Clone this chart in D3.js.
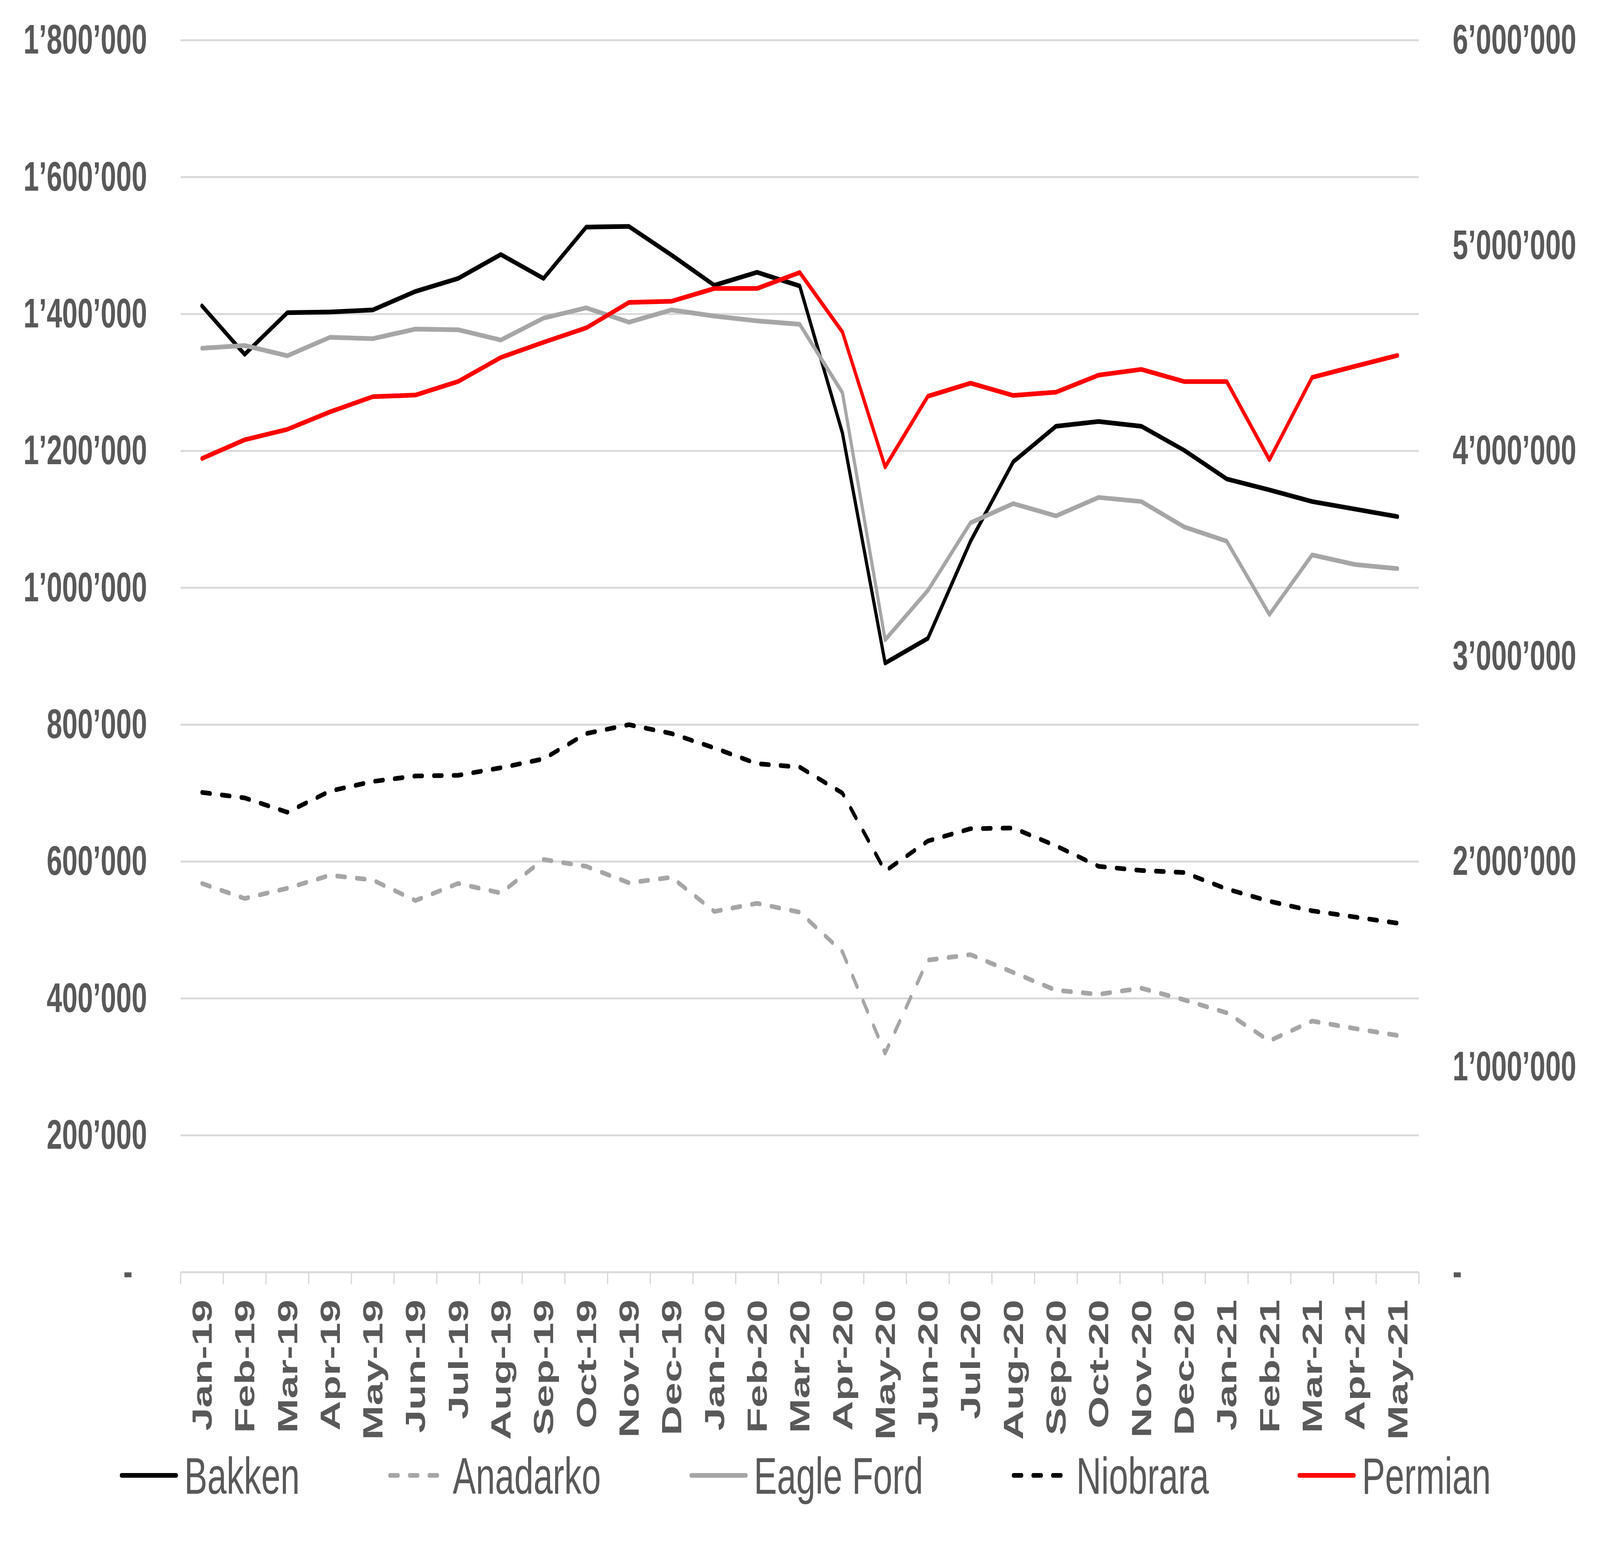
<!DOCTYPE html>
<html><head><meta charset="utf-8">
<script src="https://cdn.jsdelivr.net/npm/d3@7"></script>
<style>
html,body{margin:0;padding:0;background:#fff;overflow:hidden;width:100%;height:100%}
svg{display:block;width:100vw;height:100vh}
</style>
</head><body>
<script>
// ---------- DATA ----------
const months = ["Jan-19","Feb-19","Mar-19","Apr-19","May-19","Jun-19","Jul-19","Aug-19","Sep-19","Oct-19","Nov-19","Dec-19",
  "Jan-20","Feb-20","Mar-20","Apr-20","May-20","Jun-20","Jul-20","Aug-20","Sep-20","Oct-20","Nov-20","Dec-20",
  "Jan-21","Feb-21","Mar-21","Apr-21","May-21"];
const seriesNames = ["Bakken","Anadarko","Eagle Ford","Niobrara","Permian"];
// left axis series
const bakken    = [1412000,1341000,1402000,1403000,1406000,1433000,1452000,1487000,1452000,1527000,1528000,1486000,1442000,1461000,1441000,1226000,890000,926000,1068000,1184000,1236000,1243000,1236000,1201000,1159000,1143000,1126000,1115000,1104000];
const anadarko  = [568000,546000,561000,580000,573000,543000,568000,554000,603000,593000,569000,577000,527000,539000,526000,468000,320000,456000,464000,438000,412000,406000,415000,398000,379000,338000,367000,356000,346000];
const eagleFord = [1350000,1354000,1339000,1366000,1364000,1378000,1377000,1362000,1394000,1409000,1388000,1406000,1397000,1390000,1385000,1285000,924000,996000,1095000,1123000,1105000,1132000,1126000,1089000,1068000,961000,1048000,1034000,1028000];
const niobrara  = [701000,693000,672000,703000,717000,725000,726000,737000,750000,787000,800000,787000,766000,743000,738000,700000,586000,630000,648000,649000,623000,593000,587000,584000,560000,542000,528000,519000,510000];
// right (secondary) axis series
const permian   = [3963000,4054000,4105000,4190000,4264000,4272000,4338000,4455000,4529000,4599000,4723000,4729000,4791000,4791000,4869000,4579000,3922000,4266000,4330000,4270000,4286000,4369000,4397000,4338000,4338000,3957000,4358000,4412000,4465000];
const leftTicks  = [0,200000,400000,600000,800000,1000000,1200000,1400000,1600000,1800000];
const rightTicks = [0,1000000,2000000,3000000,4000000,5000000,6000000];

// ---------- LAYOUT ----------
const W = 6104, H = 3990;
const M = {left: 689, right: 5413, top: 103, bottom: 3256};
const FONT = "'Liberation Sans', Arial, Helvetica, sans-serif";
const TXT = "#595959", GRID = "#d9d9d9";

const svg = d3.select("body").append("svg")
  .attr("viewBox", `0 0 ${W} ${H}`)
  .attr("preserveAspectRatio", "none")
  .style("font-family", FONT);
svg.append("rect").attr("width", W).attr("height", H).attr("fill", "#fff");

const x  = d3.scaleBand().domain(months).range([M.left, M.right]);
const yL = d3.scaleLinear().domain([0, 1800000]).range([M.bottom, M.top]);
const yR = d3.scaleLinear().domain([0, 6000000]).range([M.bottom, M.top]);

const loc = d3.formatLocale({decimal: ".", thousands: "\u2019", grouping: [3], currency: ["", ""]});
const f = loc.format(",d");
const fmt = v => v === 0 ? "-" : f(v);

// gridlines
svg.append("g").selectAll("line").data(leftTicks.filter(d => d > 0)).join("line")
  .attr("x1", M.left).attr("x2", M.right)
  .attr("y1", d => yL(d)).attr("y2", d => yL(d))
  .attr("stroke", GRID).attr("stroke-width", 5);

// left axis
const gL = svg.append("g").attr("transform", `translate(${M.left},0)`)
  .call(d3.axisLeft(yL).tickValues(leftTicks).tickFormat(fmt).tickSize(0).tickPadding(128));
gL.select(".domain").remove();
gL.attr("font-family", FONT).attr("font-size", 106).attr("font-weight", "bold");
gL.selectAll("text").attr("fill", TXT).attr("dx", d => d === 0 ? -55 : 0);

// right axis
const gR = svg.append("g").attr("transform", `translate(${M.right},0)`)
  .call(d3.axisRight(yR).tickValues(rightTicks).tickFormat(fmt).tickSize(0).tickPadding(129));
gR.select(".domain").remove();
gR.attr("font-family", FONT).attr("font-size", 106).attr("font-weight", "bold");
gR.selectAll("text").attr("fill", TXT);

// bottom axis line + boundary ticks
svg.append("line").attr("x1", M.left).attr("x2", M.right).attr("y1", M.bottom).attr("y2", M.bottom)
  .attr("stroke", GRID).attr("stroke-width", 5);
const bounds = months.map(m => x(m)).concat([x(months[months.length - 1]) + x.bandwidth()]);
svg.append("g").selectAll("line").data(bounds).join("line")
  .attr("x1", d => d).attr("x2", d => d).attr("y1", M.bottom).attr("y2", M.bottom + 31)
  .attr("stroke", GRID).attr("stroke-width", 5);

const gB = svg.append("g").attr("transform", `translate(0,${M.bottom})`)
  .call(d3.axisBottom(x).tickSize(0).tickPadding(0));
gB.select(".domain").remove();
gB.attr("font-family", FONT).attr("font-size", 106).attr("font-weight", "bold");
gB.selectAll("text").attr("fill", TXT)
  .attr("transform", "rotate(-90)").attr("text-anchor", "end")
  .attr("x", -70).attr("y", 0).attr("dy", "0.35em");

// ---------- SERIES ----------
const DASH = "32,43";
const series = [
  {name: seriesNames[0], values: bakken,    color: "#000000", dash: null, y: yL},
  {name: seriesNames[1], values: anadarko,  color: "#a6a6a6", dash: DASH, y: yL},
  {name: seriesNames[2], values: eagleFord, color: "#a6a6a6", dash: null, y: yL},
  {name: seriesNames[3], values: niobrara,  color: "#000000", dash: DASH, y: yL},
  {name: seriesNames[4], values: permian,   color: "#ff0000", dash: null, y: yR}
];
const cx = m => x(m) + x.bandwidth() / 2;
series.forEach(s => {
  const line = d3.line().x((d, i) => cx(months[i])).y(d => s.y(d));
  svg.append("path").datum(s.values).attr("d", line)
    .attr("fill", "none").attr("stroke", s.color).attr("stroke-width", 12)
    .attr("stroke-linejoin", "round").attr("stroke-linecap", "round")
    .attr("stroke-dasharray", s.dash);
});

// ---------- LEGEND ----------
const LEG_Y = 3776, LINE_LEN = 210, TEXT_OFF = 240, GAP = 344;
let lx = 463;
series.forEach(s => {
  const g = svg.append("g");
  g.append("line").attr("x1", lx).attr("x2", lx + LINE_LEN).attr("y1", LEG_Y).attr("y2", LEG_Y)
    .attr("stroke", s.color).attr("stroke-width", 12).attr("stroke-linecap", "round")
    .attr("stroke-dasharray", s.dash);
  const t = g.append("text").attr("x", lx + TEXT_OFF).attr("y", 3823)
    .attr("font-size", 132).attr("fill", TXT).attr("font-family", FONT).text(s.name);
  const w = t.node().getComputedTextLength();
  lx += TEXT_OFF + w + GAP;
});
</script>
</body></html>
